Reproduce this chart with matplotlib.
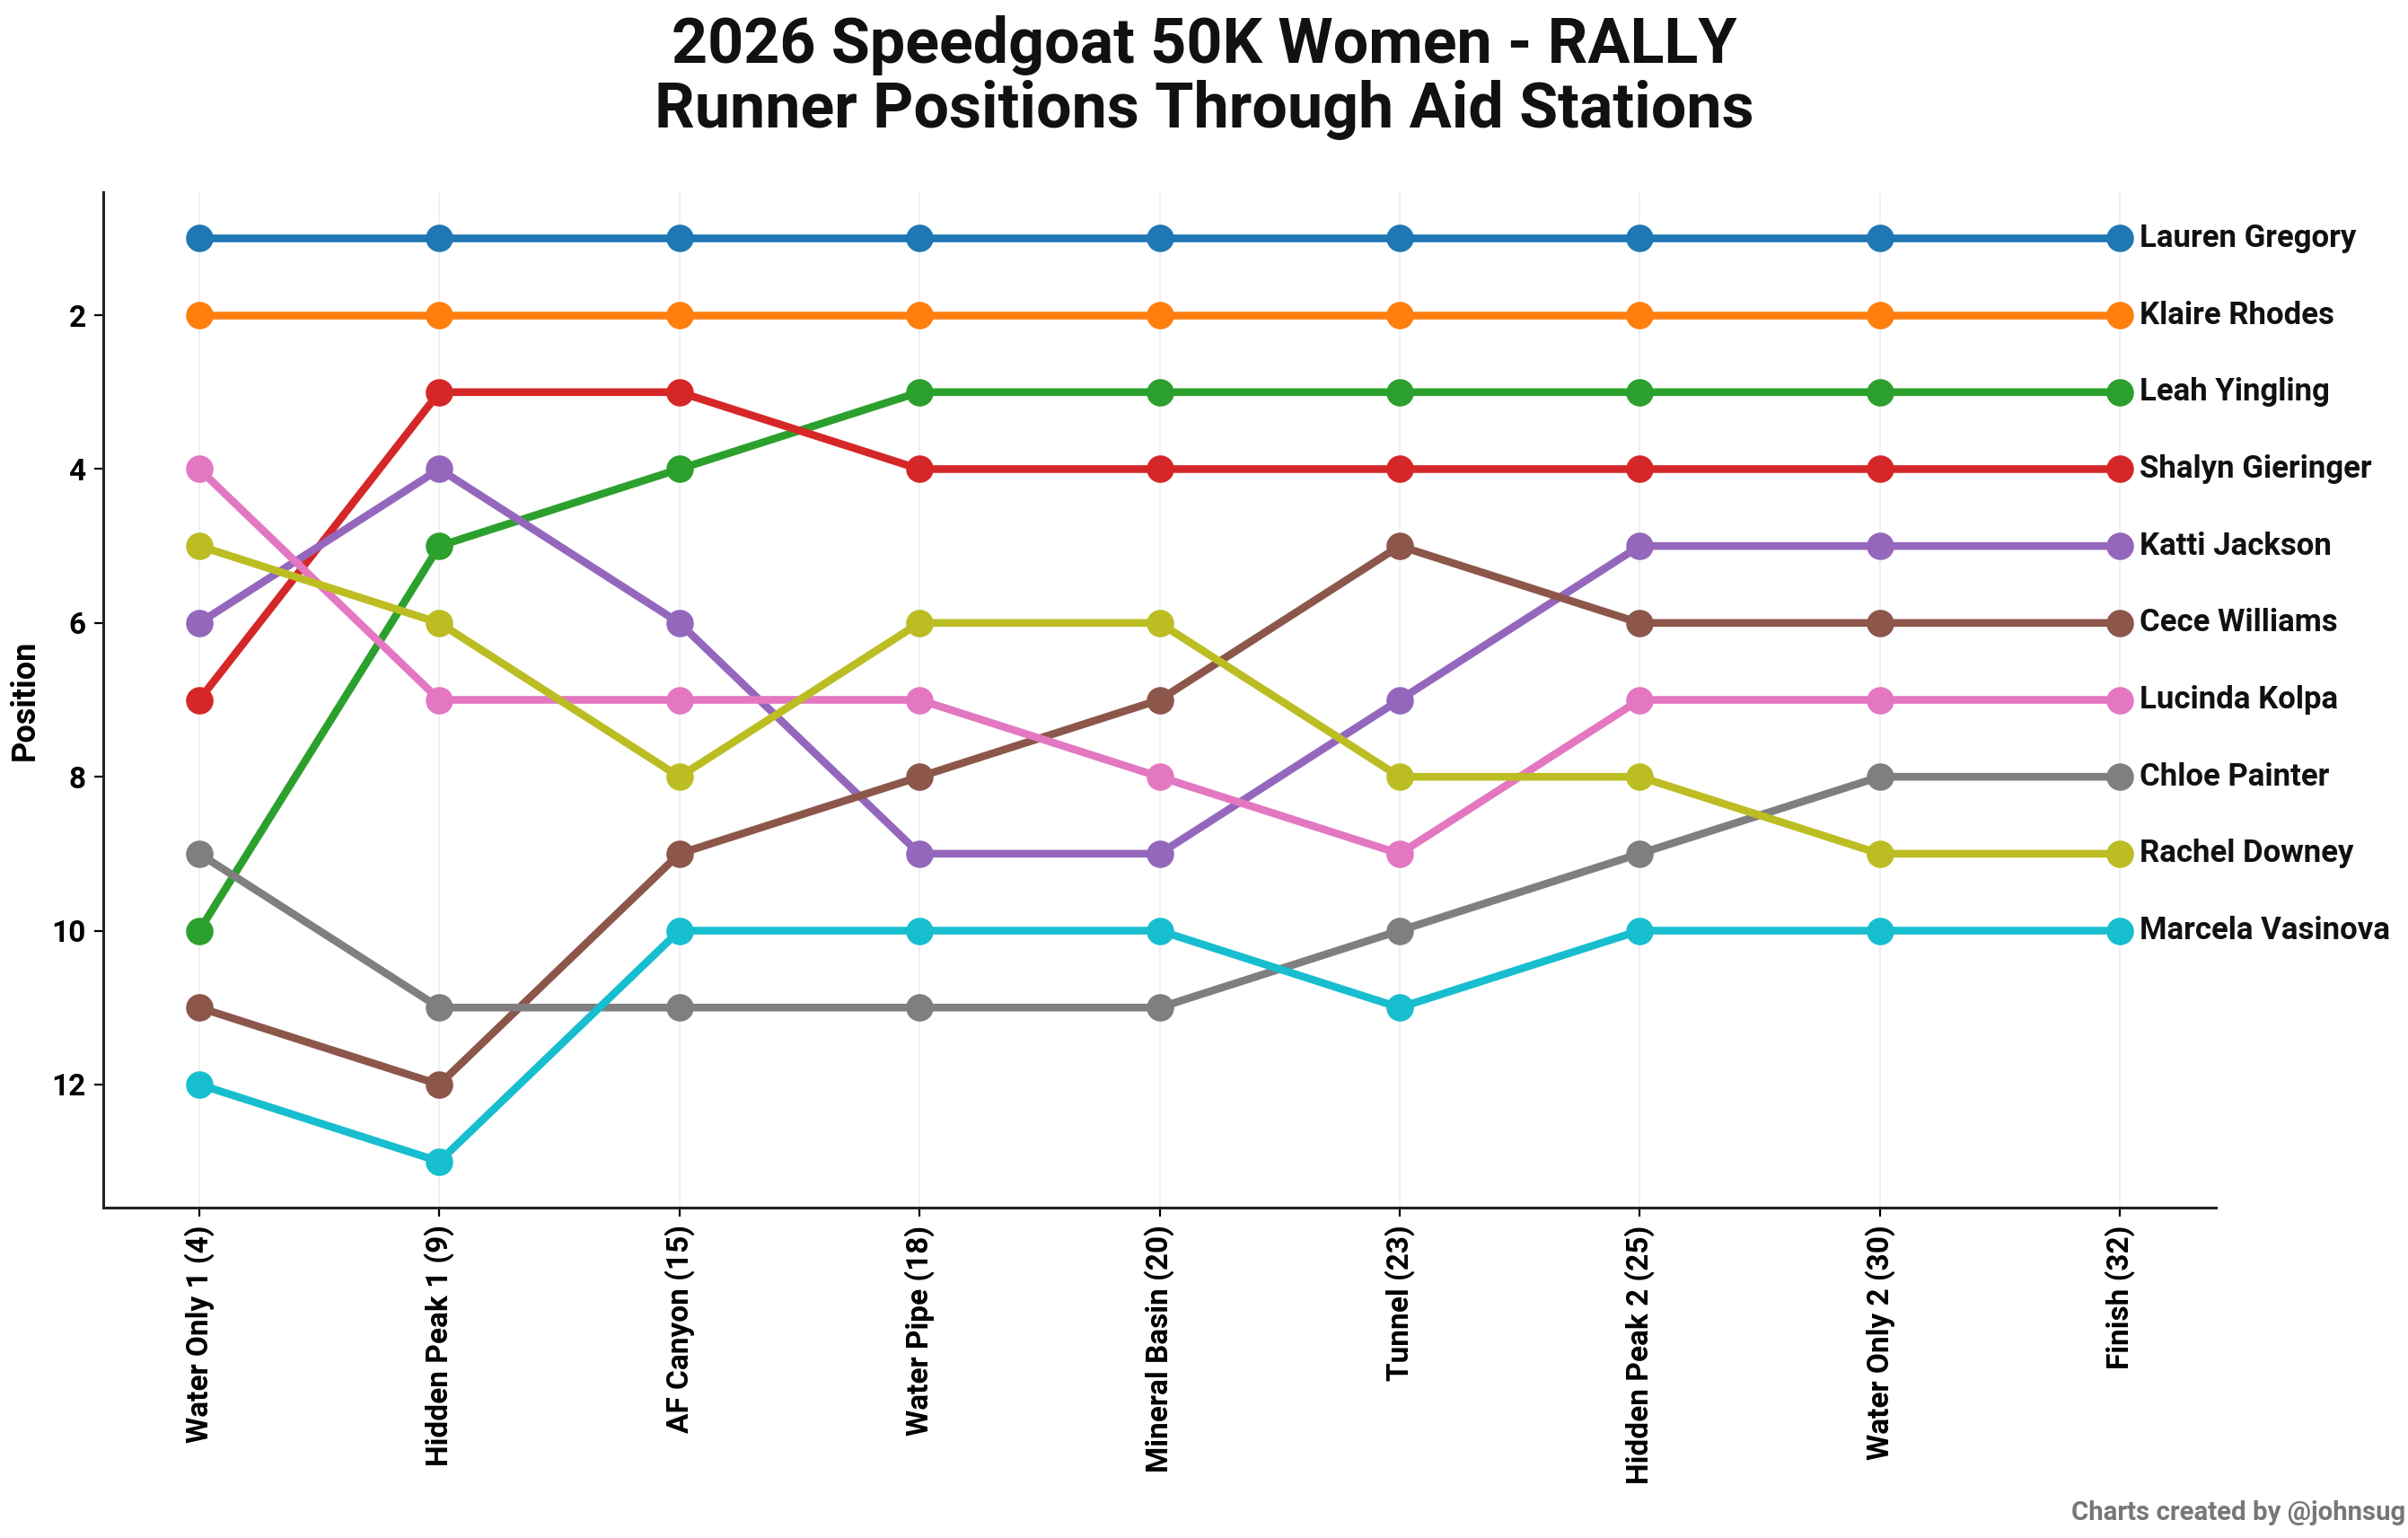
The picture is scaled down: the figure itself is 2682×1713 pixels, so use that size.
import matplotlib
matplotlib.use("Agg")
import matplotlib.pyplot as plt

plt.rcParams["font.family"] = ["Roboto", "DejaVu Sans"]
plt.rcParams["font.weight"] = "bold"

# Aid stations (mile in brackets)
stations = [
    "Water Only 1 (4)",
    "Hidden Peak 1 (9)",
    "AF Canyon (15)",
    "Water Pipe (18)",
    "Mineral Basin (20)",
    "Tunnel (23)",
    "Hidden Peak 2 (25)",
    "Water Only 2 (30)",
    "Finish (32)",
]

# Positions of each runner at each station
lauren_gregory = [1, 1, 1, 1, 1, 1, 1, 1, 1]
klaire_rhodes = [2, 2, 2, 2, 2, 2, 2, 2, 2]
leah_yingling = [10, 5, 4, 3, 3, 3, 3, 3, 3]
shalyn_gieringer = [7, 3, 3, 4, 4, 4, 4, 4, 4]
katti_jackson = [6, 4, 6, 9, 9, 7, 5, 5, 5]
cece_williams = [11, 12, 9, 8, 7, 5, 6, 6, 6]
lucinda_kolpa = [4, 7, 7, 7, 8, 9, 7, 7, 7]
chloe_painter = [9, 11, 11, 11, 11, 10, 9, 8, 8]
rachel_downey = [5, 6, 8, 6, 6, 8, 8, 9, 9]
marcela_vasinova = [12, 13, 10, 10, 10, 11, 10, 10, 10]

runners = [
    ("Lauren Gregory", lauren_gregory),
    ("Klaire Rhodes", klaire_rhodes),
    ("Leah Yingling", leah_yingling),
    ("Shalyn Gieringer", shalyn_gieringer),
    ("Katti Jackson", katti_jackson),
    ("Cece Williams", cece_williams),
    ("Lucinda Kolpa", lucinda_kolpa),
    ("Chloe Painter", chloe_painter),
    ("Rachel Downey", rachel_downey),
    ("Marcela Vasinova", marcela_vasinova),
]

fig = plt.figure(figsize=(13.41, 8.565), dpi=200)
ax = fig.add_axes([115 / 2682, 1 - 1345 / 1713, (2468 - 115) / 2682, (1345 - 214) / 1713])

x = list(range(len(stations)))
for i, (name, pos) in enumerate(runners):
    color = "C%d" % i
    ax.plot(x, pos, color=color, linewidth=3.1, marker="o", markersize=10)
    ax.annotate(name, xy=(x[-1], pos[-1]), xytext=(8, 0), textcoords="offset points",
                va="center", ha="left", fontsize=12.5, fontweight="bold", color="#111111")

ax.set_xlim(-0.4, 8.4)
ax.set_ylim(13.6, 0.4)
ax.set_yticks([2, 4, 6, 8, 10, 12])
ax.set_xticks(x)
ax.set_xticklabels(stations, rotation=90, fontsize=12, fontweight="bold")
ax.tick_params(axis="y", labelsize=12)
ax.set_ylabel("Position", fontsize=13, fontweight="bold")
ax.grid(axis="x", color="#e6e6e6", linewidth=0.6, alpha=0.7)
ax.spines["top"].set_visible(False)
ax.spines["right"].set_visible(False)
for s in ["left", "bottom"]:
    ax.spines[s].set_color("#222222")
    ax.spines[s].set_linewidth(1.1)

fig.suptitle("2026 Speedgoat 50K Women - RALLY\nRunner Positions Through Aid Stations",
             fontsize=25.2, fontweight="bold", y=0.99, linespacing=1.1, color="#111111")
fig.text(0.999, 0.008, "Charts created by @johnsug", ha="right", va="bottom",
         fontsize=10.6, fontweight="bold", color="#777777")

fig.savefig("out.png", dpi=200)
